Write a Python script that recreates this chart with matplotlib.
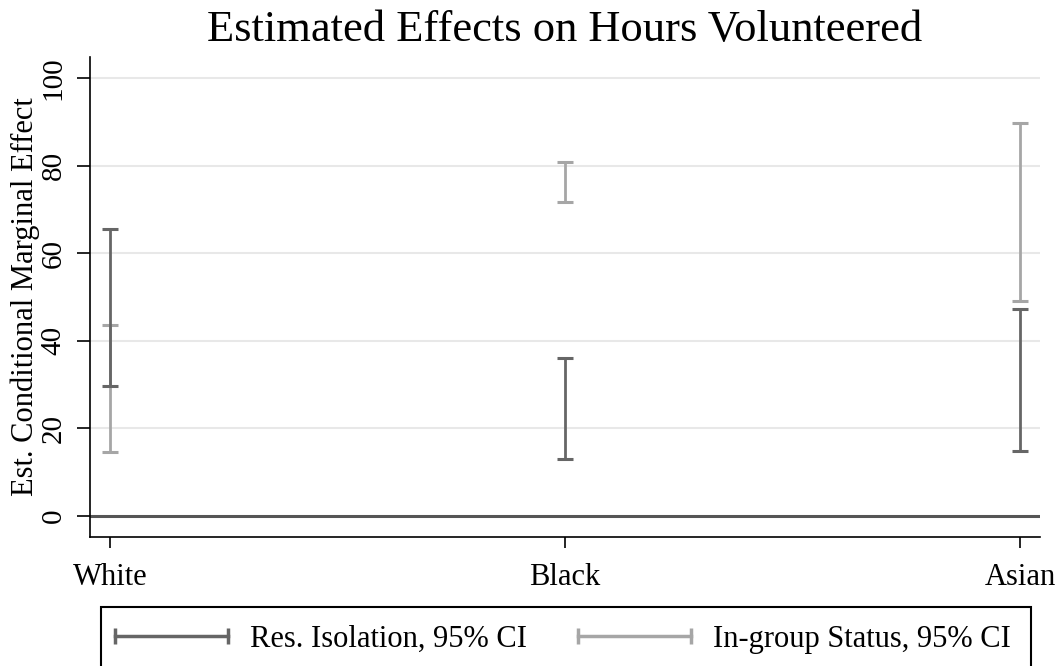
import numpy as np
import matplotlib
matplotlib.use("Agg")
import matplotlib.pyplot as plt
from matplotlib.lines import Line2D
from matplotlib.patches import Rectangle

plt.rcParams['font.family'] = ['Liberation Serif', 'DejaVu Serif']

groups = ['White', 'Black', 'Asian']
iso_lo = [29.7, 13.0, 14.9]
iso_hi = [65.5, 36.0, 47.2]
ing_lo = [14.5, 71.7, 49.1]
ing_hi = [43.6, 80.9, 89.8]

dark = '#666666'
light = '#a6a6a6'

fig = plt.figure(figsize=(10.59, 6.66), dpi=100)
ax = fig.add_axes([0.085, 0.1937, 0.897, 0.7207])

x = np.arange(len(groups))
for yv in [20, 40, 60, 80, 100]:
    ax.axhline(yv, color='#e8e8e8', lw=1.5, zorder=0)
ax.axhline(0, color='#555555', lw=2.2, zorder=1)

cap = 135
ax.vlines(x, ing_lo, ing_hi, color=light, lw=2, zorder=2)
ax.scatter(x, ing_lo, marker='_', s=cap, color=light, linewidths=2.2, zorder=2)
ax.scatter(x, ing_hi, marker='_', s=cap, color=light, linewidths=2.2, zorder=2)
ax.vlines(x, iso_lo, iso_hi, color=dark, lw=2, zorder=3)
ax.scatter(x, iso_lo, marker='_', s=cap, color=dark, linewidths=2.2, zorder=3)
ax.scatter(x, iso_hi, marker='_', s=cap, color=dark, linewidths=2.2, zorder=3)

ax.set_xlim(-0.044, 2.044)
ax.set_ylim(-4.8, 104.8)
ax.set_xticks(x)
ax.set_xticklabels(groups, fontsize=22)
ax.set_yticks([0, 20, 40, 60, 80, 100])
ax.set_yticklabels(['0', '20', '40', '60', '80', '100'], fontsize=21, rotation=90, va='center')
ax.tick_params(axis='both', direction='out', length=9.5, width=1.2, color='black')
ax.tick_params(axis='x', length=8, pad=11)
ax.tick_params(axis='y', pad=7.5)
for s in ['top', 'right']:
    ax.spines[s].set_visible(False)
for s in ['left', 'bottom']:
    ax.spines[s].set_linewidth(1.2)
ax.set_ylabel('Est. Conditional Marginal Effect', fontsize=22, labelpad=0)
fig.text(0.5335, 0.955, 'Estimated Effects on Hours Volunteered', ha='center', va='center', fontsize=32)

# legend box, clipped by the bottom edge
fig.patches.append(Rectangle((101 / 1059, -0.05), 930 / 1059, 0.05 + 1 - 607 / 666,
                             transform=fig.transFigure, fill=False, edgecolor='black', lw=1.5))
handles = [Line2D([], [], color=dark, lw=2.5, marker='|', markersize=12, markeredgewidth=2.5),
           Line2D([], [], color=light, lw=2.5, marker='|', markersize=12, markeredgewidth=2.5)]
leg = fig.legend(handles, ['Res. Isolation, 95% CI', 'In-group Status, 95% CI'],
                 loc='center left', bbox_to_anchor=(106 / 1059, 1 - 639 / 666),
                 ncol=2, numpoints=2, handlelength=4.3, handletextpad=0.42, fontsize=22,
                 frameon=False, borderaxespad=0, borderpad=0, columnspacing=1.37)

fig.savefig('out.png', dpi=100)
